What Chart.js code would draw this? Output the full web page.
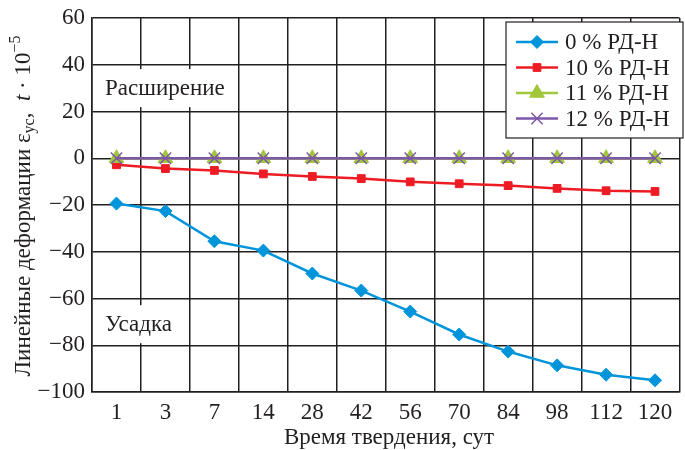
<!DOCTYPE html>
<html>
<head>
<meta charset="utf-8">
<script src="https://cdn.jsdelivr.net/npm/chart.js@4/dist/chart.umd.min.js"></script>
<style>
    html, body { margin: 0; padding: 0; background: #fff; overflow: hidden; }
    #wrap { width: 689px; height: 450px; }
</style>
</head>
<body>
<div id="wrap"><canvas id="chart"></canvas></div>
<script>
// Data
const days = ['1', '3', '7', '14', '28', '42', '56', '70', '84', '98', '112', '120'];
const rd0 = [-19.4, -22.6, -35.5, -39.5, -49.3, -56.6, -65.6, -75.4, -82.7, -88.6, -92.6, -95.0];
const rd10 = [-2.8, -4.4, -5.2, -6.7, -7.8, -8.7, -10.1, -10.9, -11.7, -12.9, -13.9, -14.2];
const rd11 = [0, 0, 0, 0, 0, 0, 0, 0, 0, 0, 0, 0];
const rd12 = [0, 0, 0, 0, 0, 0, 0, 0, 0, 0, 0, 0];
const seriesNames = ['0 % РД-Н', '10 % РД-Н', '11 % РД-Н', '12 % РД-Н'];
const yMin = -100, yMax = 60, yStep = 20;

const FONT = '"Liberation Serif", "Times New Roman", serif';
const FS = 23;
const INK = '#231f20';
const colors = ['#0095da', '#ed1c24', '#a2c73b', '#7d57a8'];

// Annotations, legend and axis titles drawn on the canvas
const overlayPlugin = {
    id: 'overlay',
    afterDatasetsDraw(chart) {
        const ctx = chart.ctx;
        const area = chart.chartArea;
        const y = chart.scales.y;

        ctx.save();
        ctx.font = FS + 'px ' + FONT;
        ctx.textBaseline = 'middle';
        ctx.textAlign = 'left';
        const notes = [['Расширение', 30], ['Усадка', -71]];
        notes.forEach(([text, v]) => {
            const w = ctx.measureText(text).width;
            const py = y.getPixelForValue(v);
            ctx.fillStyle = '#fff';
            ctx.fillRect(area.left + 8, py - 19, w + 12, 38);
            ctx.fillStyle = INK;
            ctx.fillText(text, area.left + 13, py + 1);
        });

        // legend box
        const lx = 506, ly = 22, lw = 177, lh = 116;
        ctx.fillStyle = '#fff';
        ctx.fillRect(lx, ly, lw, lh);
        ctx.strokeStyle = INK;
        ctx.lineWidth = 1.2;
        ctx.strokeRect(lx, ly, lw, lh);
        chart.data.datasets.forEach((ds, i) => {
            const ry = 42 + i * 25.5;
            ctx.strokeStyle = ds.borderColor;
            ctx.lineWidth = 2.5;
            ctx.beginPath();
            ctx.moveTo(516, ry);
            ctx.lineTo(558, ry);
            ctx.stroke();
            ctx.fillStyle = ds.pointBackgroundColor;
            ctx.strokeStyle = ds.pointBorderColor;
            ctx.lineWidth = ds.pointBorderWidth;
            Chart.helpers.drawPoint(ctx, {
                pointStyle: ds.pointStyle,
                radius: ds.pointRadius,
                rotation: 0,
                borderWidth: ds.pointBorderWidth
            }, 537, ry);
            ctx.fillStyle = INK;
            ctx.font = FS + 'px ' + FONT;
            ctx.fillText(ds.label, 565, ry + 1);
        });
        ctx.restore();
    },
    afterDraw(chart) {
        const ctx = chart.ctx;
        ctx.save();
        ctx.fillStyle = INK;
        ctx.textBaseline = 'alphabetic';

        // x title
        ctx.font = FS + 'px ' + FONT;
        ctx.textAlign = 'center';
        ctx.fillText('Время твердения, сут', 389, 444);

        // y title, rotated, with subscript and superscript
        const parts = [
            { t: 'Линейные деформации ε', f: FS + 'px ' + FONT, dy: 0 },
            { t: 'ус', f: '16px ' + FONT, dy: 4 },
            { t: ',  ', f: FS + 'px ' + FONT, dy: 0 },
            { t: 't', f: 'italic ' + FS + 'px ' + FONT, dy: 0 },
            { t: ' · 10', f: FS + 'px ' + FONT, dy: 0 },
            { t: '−5', f: '16px ' + FONT, dy: -10 }
        ];
        let total = 0;
        parts.forEach(p => { ctx.font = p.f; p.w = ctx.measureText(p.t).width; total += p.w; });
        ctx.translate(30, 206);
        ctx.rotate(-Math.PI / 2);
        let x = -total / 2;
        ctx.textAlign = 'left';
        parts.forEach(p => {
            ctx.font = p.f;
            ctx.fillText(p.t, x, p.dy);
            x += p.w;
        });
        ctx.restore();
    }
};

function lineSet(label, data, color, style, radius, order) {
    return {
        label: label,
        data: data,
        borderColor: color,
        backgroundColor: color,
        pointBackgroundColor: color,
        pointBorderColor: color,
        borderWidth: 2.5,
        pointStyle: style,
        pointRadius: radius,
        pointBorderWidth: style === 'crossRot' ? 1.5 : 1,
        tension: 0,
        order: order
    };
}

new Chart(document.getElementById('chart'), {
    type: 'line',
    data: {
        labels: days,
        datasets: [
            lineSet(seriesNames[0], rd0, colors[0], 'rectRot', 6.5, 3),
            lineSet(seriesNames[1], rd10, colors[1], 'rect', 5.5, 2),
            lineSet(seriesNames[2], rd11, colors[2], 'triangle', 8.5, 1),
            lineSet(seriesNames[3], rd12, colors[3], 'crossRot', 8, 0)
        ]
    },
    options: {
        responsive: true,
        maintainAspectRatio: false,
        animation: false,
        layout: { padding: { top: 18, right: 1, left: 0, bottom: 0 } },
        plugins: {
            legend: { display: false },
            tooltip: { enabled: false }
        },
        scales: {
            x: {
                offset: true,
                grid: { offset: true, color: INK, lineWidth: 1.5, drawTicks: false },
                border: { color: INK, width: 1.5 },
                ticks: { color: INK, font: { family: FONT, size: FS }, padding: 7, maxRotation: 0, autoSkip: false },
                afterFit(scale) { scale.height = 58; }
            },
            y: {
                min: yMin,
                max: yMax,
                grid: { color: INK, lineWidth: 1.5, drawTicks: false },
                border: { color: INK, width: 1.5 },
                ticks: {
                    stepSize: yStep,
                    color: INK,
                    font: { family: FONT, size: FS },
                    padding: 7,
                    callback: v => String(v).replace('-', '−')
                },
                afterFit(scale) { scale.width = 92; scale.paddingTop = 0; }
            }
        }
    },
    plugins: [overlayPlugin]
});
</script>
</body>
</html>
